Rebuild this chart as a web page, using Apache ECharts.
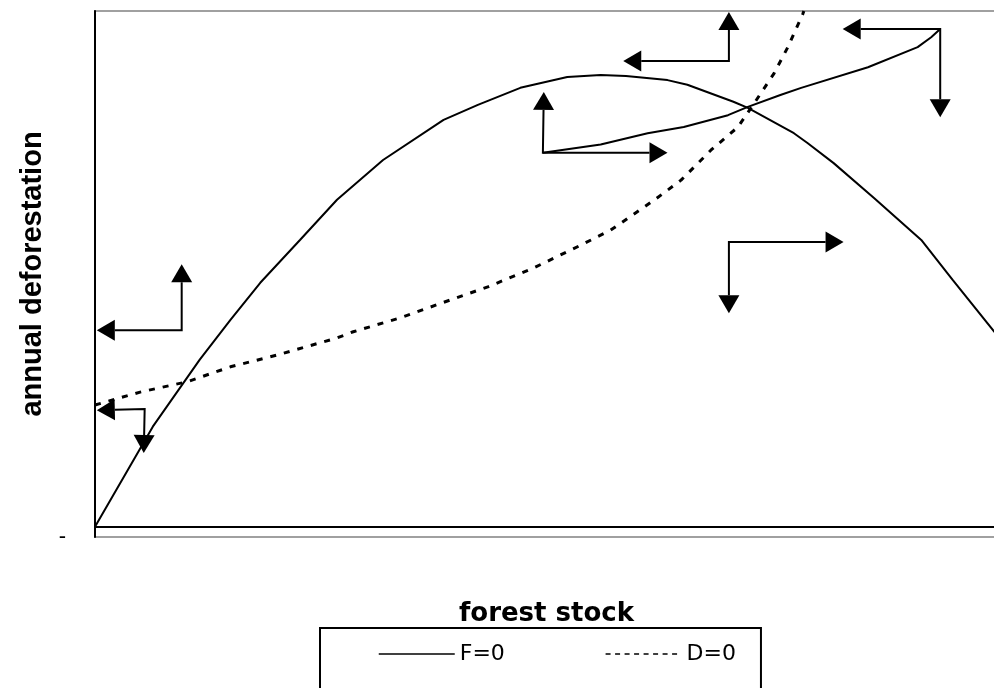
<!DOCTYPE html>
<html>
<head>
<meta charset="utf-8">
<script src="https://cdn.jsdelivr.net/npm/echarts@6/dist/echarts.min.js"></script>
<style>
  html, body { margin: 0; padding: 0; background: #ffffff; }
  #chart { width: 994px; height: 688px; }
</style>
</head>
<body>
<div id="chart"></div>
<script>
// Phase diagram: forest stock (x) against annual deforestation (y)

// F=0 isocline: [forest stock, annual deforestation]
const fZeroCurve = [
  [0, 0], [6.4, 19.4], [11.6, 32.4], [15.0, 40.1], [18.3, 47.3], [22.7, 55.6],
  [26.8, 63.4], [31.9, 71.1], [38.6, 78.9], [42.4, 81.8], [47.1, 85.1],
  [52.3, 87.2], [56.0, 87.6], [58.8, 87.4], [63.4, 86.6], [65.6, 85.7],
  [70.7, 82.4], [72.3, 81.2], [77.4, 76.3], [78.9, 74.4], [81.8, 70.5],
  [86.3, 63.7], [91.5, 55.6], [95.0, 47.8], [99.6, 37.8], [100, 36.9]
];

// D=0 isocline
const dZeroCurve = [
  [0, 23.6], [5.0, 26.1], [10.2, 28.1], [15.0, 31.0], [20.2, 33.3], [26.8, 36.6],
  [28.6, 37.8], [33.8, 40.5], [38.6, 43.5], [43.5, 46.5], [48.6, 50.2],
  [53.8, 54.6], [57.1, 57.5], [61.9, 63.3], [64.9, 67.2], [68.2, 73.0],
  [71.2, 77.5], [73.0, 82.1], [75.2, 87.9], [76.7, 92.9], [78.4, 99.5], [78.5, 100]
];

// Saddle path running through the steady state
const saddlePath = [
  [49.6, 72.5], [56.0, 74.1], [61.2, 76.3], [65.2, 77.5], [70.1, 79.8],
  [72.3, 81.4], [75.9, 83.7], [78.2, 85.1], [85.6, 89.1], [91.1, 93.0],
  [92.6, 94.9], [93.6, 96.5]
];

// Direction arrows: corner point, first arrow tip, second arrow tip
const directionArrows = [
  [9.6, 38.1, 0.2, 38.1, 9.6, 50.9],
  [5.5, 22.8, 0.2, 22.6, 5.4, 14.3],
  [49.6, 72.5, 49.7, 84.3, 63.4, 72.5],
  [70.2, 90.3, 70.2, 99.8, 58.5, 90.3],
  [93.6, 96.5, 82.8, 96.5, 93.6, 79.4],
  [70.2, 55.2, 82.9, 55.2, 70.2, 41.4]
];

const seriesNames = ['F=0', 'D=0'];
const xAxisTitle = 'forest stock';
const yAxisTitle = 'annual deforestation';
const yMin = -2;
const yMax = 100;

const chart = echarts.init(document.getElementById('chart'), null, { renderer: 'canvas' });

function arrowRender(params, api) {
  const corner = api.coord([api.value(0), api.value(1)]);
  const tips = [
    api.coord([api.value(2), api.value(3)]),
    api.coord([api.value(4), api.value(5)])
  ];
  const headLen = 18, headHalf = 10.5;
  const bases = [];
  const heads = tips.map(function (tip) {
    const dx = tip[0] - corner[0], dy = tip[1] - corner[1];
    const len = Math.hypot(dx, dy) || 1;
    const ux = dx / len, uy = dy / len;
    const bx = tip[0] - ux * headLen, by = tip[1] - uy * headLen;
    bases.push([bx, by]);
    return {
      type: 'polygon',
      shape: { points: [tip, [bx - uy * headHalf, by + ux * headHalf], [bx + uy * headHalf, by - ux * headHalf]] },
      style: { fill: '#000000' }
    };
  });
  return {
    type: 'group',
    children: [{
      type: 'polyline',
      shape: { points: [bases[0], corner, bases[1]] },
      style: { stroke: '#000000', lineWidth: 2, fill: null }
    }].concat(heads)
  };
}

const hiddenMarker = { opacity: 0 };

chart.setOption({
  animation: false,
  backgroundColor: '#ffffff',
  grid: {
    left: 95, top: 11, right: -4, height: 526,
    outerBoundsMode: 'none',
    show: true, borderColor: '#a0a0a0', borderWidth: 2, backgroundColor: 'transparent'
  },
  xAxis: {
    type: 'value', min: 0, max: 100,
    name: xAxisTitle, nameLocation: 'middle', nameGap: 64,
    nameTextStyle: { fontFamily: 'DejaVu Sans', fontWeight: 'bold', fontSize: 26, color: '#000000' },
    axisLine: { show: true, onZero: true, lineStyle: { color: '#000000', width: 2 } },
    axisTick: { show: false }, axisLabel: { show: false }, splitLine: { show: false }
  },
  yAxis: {
    type: 'value', min: yMin, max: yMax,
    name: yAxisTitle, nameLocation: 'middle', nameGap: 48,
    nameTextStyle: { fontFamily: 'Liberation Sans', fontWeight: 'bold', fontSize: 29, color: '#000000' },
    axisLine: { show: true, onZero: false, lineStyle: { color: '#000000', width: 2 } },
    axisTick: { show: false }, splitLine: { show: false },
    axisLabel: {
      show: true, showMinLabel: true, showMaxLabel: false, margin: 29,
      fontFamily: 'Liberation Sans', fontSize: 22, color: '#000000',
      formatter: function (v) { return v === yMin ? '-' : ''; }
    }
  },
  legend: {
    data: [
      { name: seriesNames[0], itemStyle: hiddenMarker, lineStyle: { type: 'solid', width: 1.5 } },
      { name: seriesNames[1], itemStyle: hiddenMarker, lineStyle: { type: [5, 4.5], width: 1.5 } }
    ],
    left: 320, top: 628, orient: 'horizontal',
    itemWidth: 76, itemHeight: 14, itemGap: 100,
    padding: [15, 25, 60, 58],
    borderColor: '#000000', borderWidth: 2,
    textStyle: { fontFamily: 'DejaVu Sans', fontSize: 22, color: '#000000' }
  },
  series: [
    {
      name: seriesNames[0], type: 'line', data: fZeroCurve,
      symbol: 'circle', symbolSize: 0, showSymbol: false, smooth: false,
      lineStyle: { color: '#000000', width: 2 }, itemStyle: { color: '#000000' }
    },
    {
      name: seriesNames[1], type: 'line', data: dZeroCurve,
      symbol: 'circle', symbolSize: 0, showSymbol: false, smooth: false,
      lineStyle: { color: '#000000', width: 3, type: [6, 8] }, itemStyle: { color: '#000000' }
    },
    {
      name: 'saddle path', type: 'line', data: saddlePath,
      symbol: 'none', smooth: false,
      lineStyle: { color: '#000000', width: 2 }, itemStyle: { color: '#000000' }
    },
    {
      name: 'arrows', type: 'custom', data: directionArrows,
      renderItem: arrowRender,
      encode: { x: [0, 2, 4], y: [1, 3, 5] },
      silent: true
    }
  ]
});
</script>
</body>
</html>
